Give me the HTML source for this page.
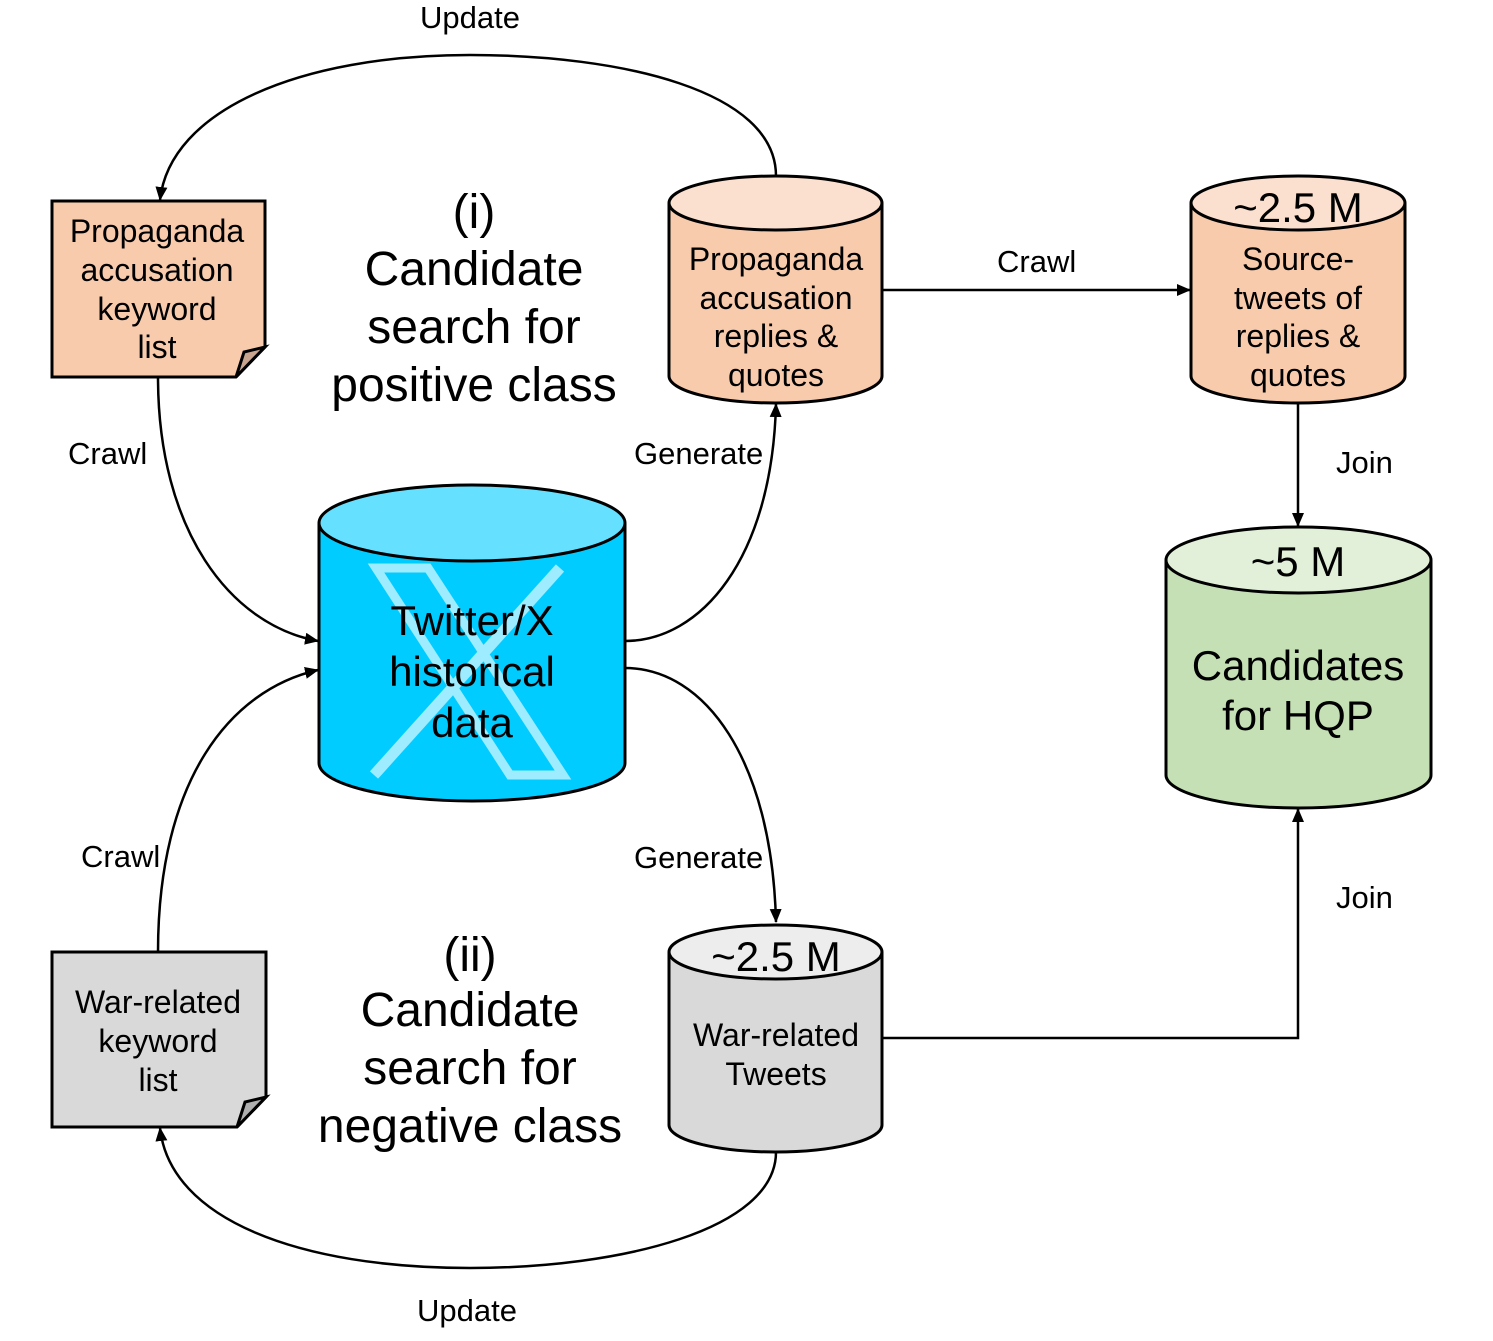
<!DOCTYPE html>
<html><head><style>body{margin:0;background:#fff}svg{display:block}text{font-family:"Liberation Sans",Arial,sans-serif;fill:#000}</style></head><body>
<svg width="1493" height="1341" viewBox="0 0 1493 1341" xmlns="http://www.w3.org/2000/svg">
<defs><marker id="a" markerWidth="14" markerHeight="12" refX="13" refY="6" orient="auto" markerUnits="userSpaceOnUse"><path d="M0,0 L14,6 L0,12 z" fill="#000"/></marker></defs>
<g fill="none" stroke="#000" stroke-width="2.5" marker-end="url(#a)">
<path d="M776,176 C776,90 620,55 470,55 C300,55 170,110 160,200"/>
<path d="M158,377 C158,530 230,625 318,641"/>
<path d="M625,641 C700,641 772,560 776,404"/>
<path d="M625,668 C705,668 772,760 776,922"/>
<path d="M158,952 C158,780 230,690 318,670"/>
<path d="M776,1152 C776,1230 620,1268 470,1268 C300,1268 170,1220 160,1128"/>
<path d="M882,290 L1190,290"/>
<path d="M1298,403 L1298,526"/>
<path d="M882,1038 L1298,1038 L1298,809"/>
</g>
<g stroke="#000" stroke-width="3">
<path d="M52,201 H265 V347 L236,377 H52 Z" fill="#F8CBAD"/>
<path d="M236,377 L244,352 L265,347 Z" fill="#C9A48E"/>
<path d="M52,952 H266 V1097 L237,1127 H52 Z" fill="#D9D9D9"/>
<path d="M237,1127 L245,1102 L266,1097 Z" fill="#AFAFAF"/>
</g>
<g stroke="#000" stroke-width="3">
<path d="M669,203 V376 A106.5,27 0 0 0 882,376 V203" fill="#F8CBAD"/>
<ellipse cx="775.5" cy="203" rx="106.5" ry="27" fill="#FBE0CF"/>
<path d="M1191,203 V376 A107,27 0 0 0 1405,376 V203" fill="#F8CBAD"/>
<ellipse cx="1298" cy="203" rx="107" ry="27" fill="#FBE0CF"/>
<path d="M1166,560 V775 A132.5,33 0 0 0 1431,775 V560" fill="#C5E0B4"/>
<ellipse cx="1298.5" cy="560" rx="132.5" ry="33" fill="#E2F0D9"/>
<path d="M669,952 V1125 A106.5,27 0 0 0 882,1125 V952" fill="#D9D9D9"/>
<ellipse cx="775.5" cy="952" rx="106.5" ry="27" fill="#EDEDED"/>
<path d="M319,523 V763 A153,38 0 0 0 625,763 V523" fill="#00CCFF"/>
<ellipse cx="472" cy="523" rx="153" ry="38" fill="#66E0FF"/>
</g>
<g fill="none" stroke="#B0F0FF" stroke-width="11" opacity="0.9">
<path d="M376,568 H428 L563,775 H510 Z" stroke-width="9"/>
<path d="M560,568 L374,775"/>
</g>
<g font-size="32" text-anchor="middle">
<text x="157" y="242">Propaganda</text><text x="157" y="281">accusation</text><text x="157" y="320">keyword</text><text x="157" y="358">list</text>
<text x="158" y="1013">War-related</text><text x="158" y="1052">keyword</text><text x="158" y="1091">list</text>
<text x="776" y="270">Propaganda</text><text x="776" y="309">accusation</text><text x="776" y="347">replies &amp;</text><text x="776" y="386">quotes</text>
<text x="1298" y="270">Source-</text><text x="1298" y="309">tweets of</text><text x="1298" y="347">replies &amp;</text><text x="1298" y="386">quotes</text>
<text x="776" y="1046">War-related</text><text x="776" y="1085">Tweets</text>
</g>
<g font-size="42" text-anchor="middle">
<text x="1298" y="222">~2.5 M</text>
<text x="776" y="971">~2.5 M</text>
<text x="1298" y="576">~5 M</text>
<text x="1298" y="680">Candidates</text><text x="1298" y="730">for HQP</text>
<text x="472" y="635">Twitter/X</text><text x="472" y="686">historical</text><text x="472" y="737">data</text>
</g>
<g font-size="48" text-anchor="middle">
<text x="474" y="228">(i)</text><text x="474" y="285">Candidate</text><text x="474" y="343">search for</text><text x="474" y="401">positive class</text>
<text x="470" y="971">(ii)</text><text x="470" y="1026">Candidate</text><text x="470" y="1084">search for</text><text x="470" y="1142">negative class</text>
</g>
<g font-size="31">
<text x="470" y="28" text-anchor="middle">Update</text>
<text x="467" y="1321" text-anchor="middle">Update</text>
<text x="68" y="464">Crawl</text>
<text x="81" y="867">Crawl</text>
<text x="634" y="464">Generate</text>
<text x="634" y="868">Generate</text>
<text x="997" y="272">Crawl</text>
<text x="1336" y="473">Join</text>
<text x="1336" y="908">Join</text>
</g>
</svg>
</body></html>
